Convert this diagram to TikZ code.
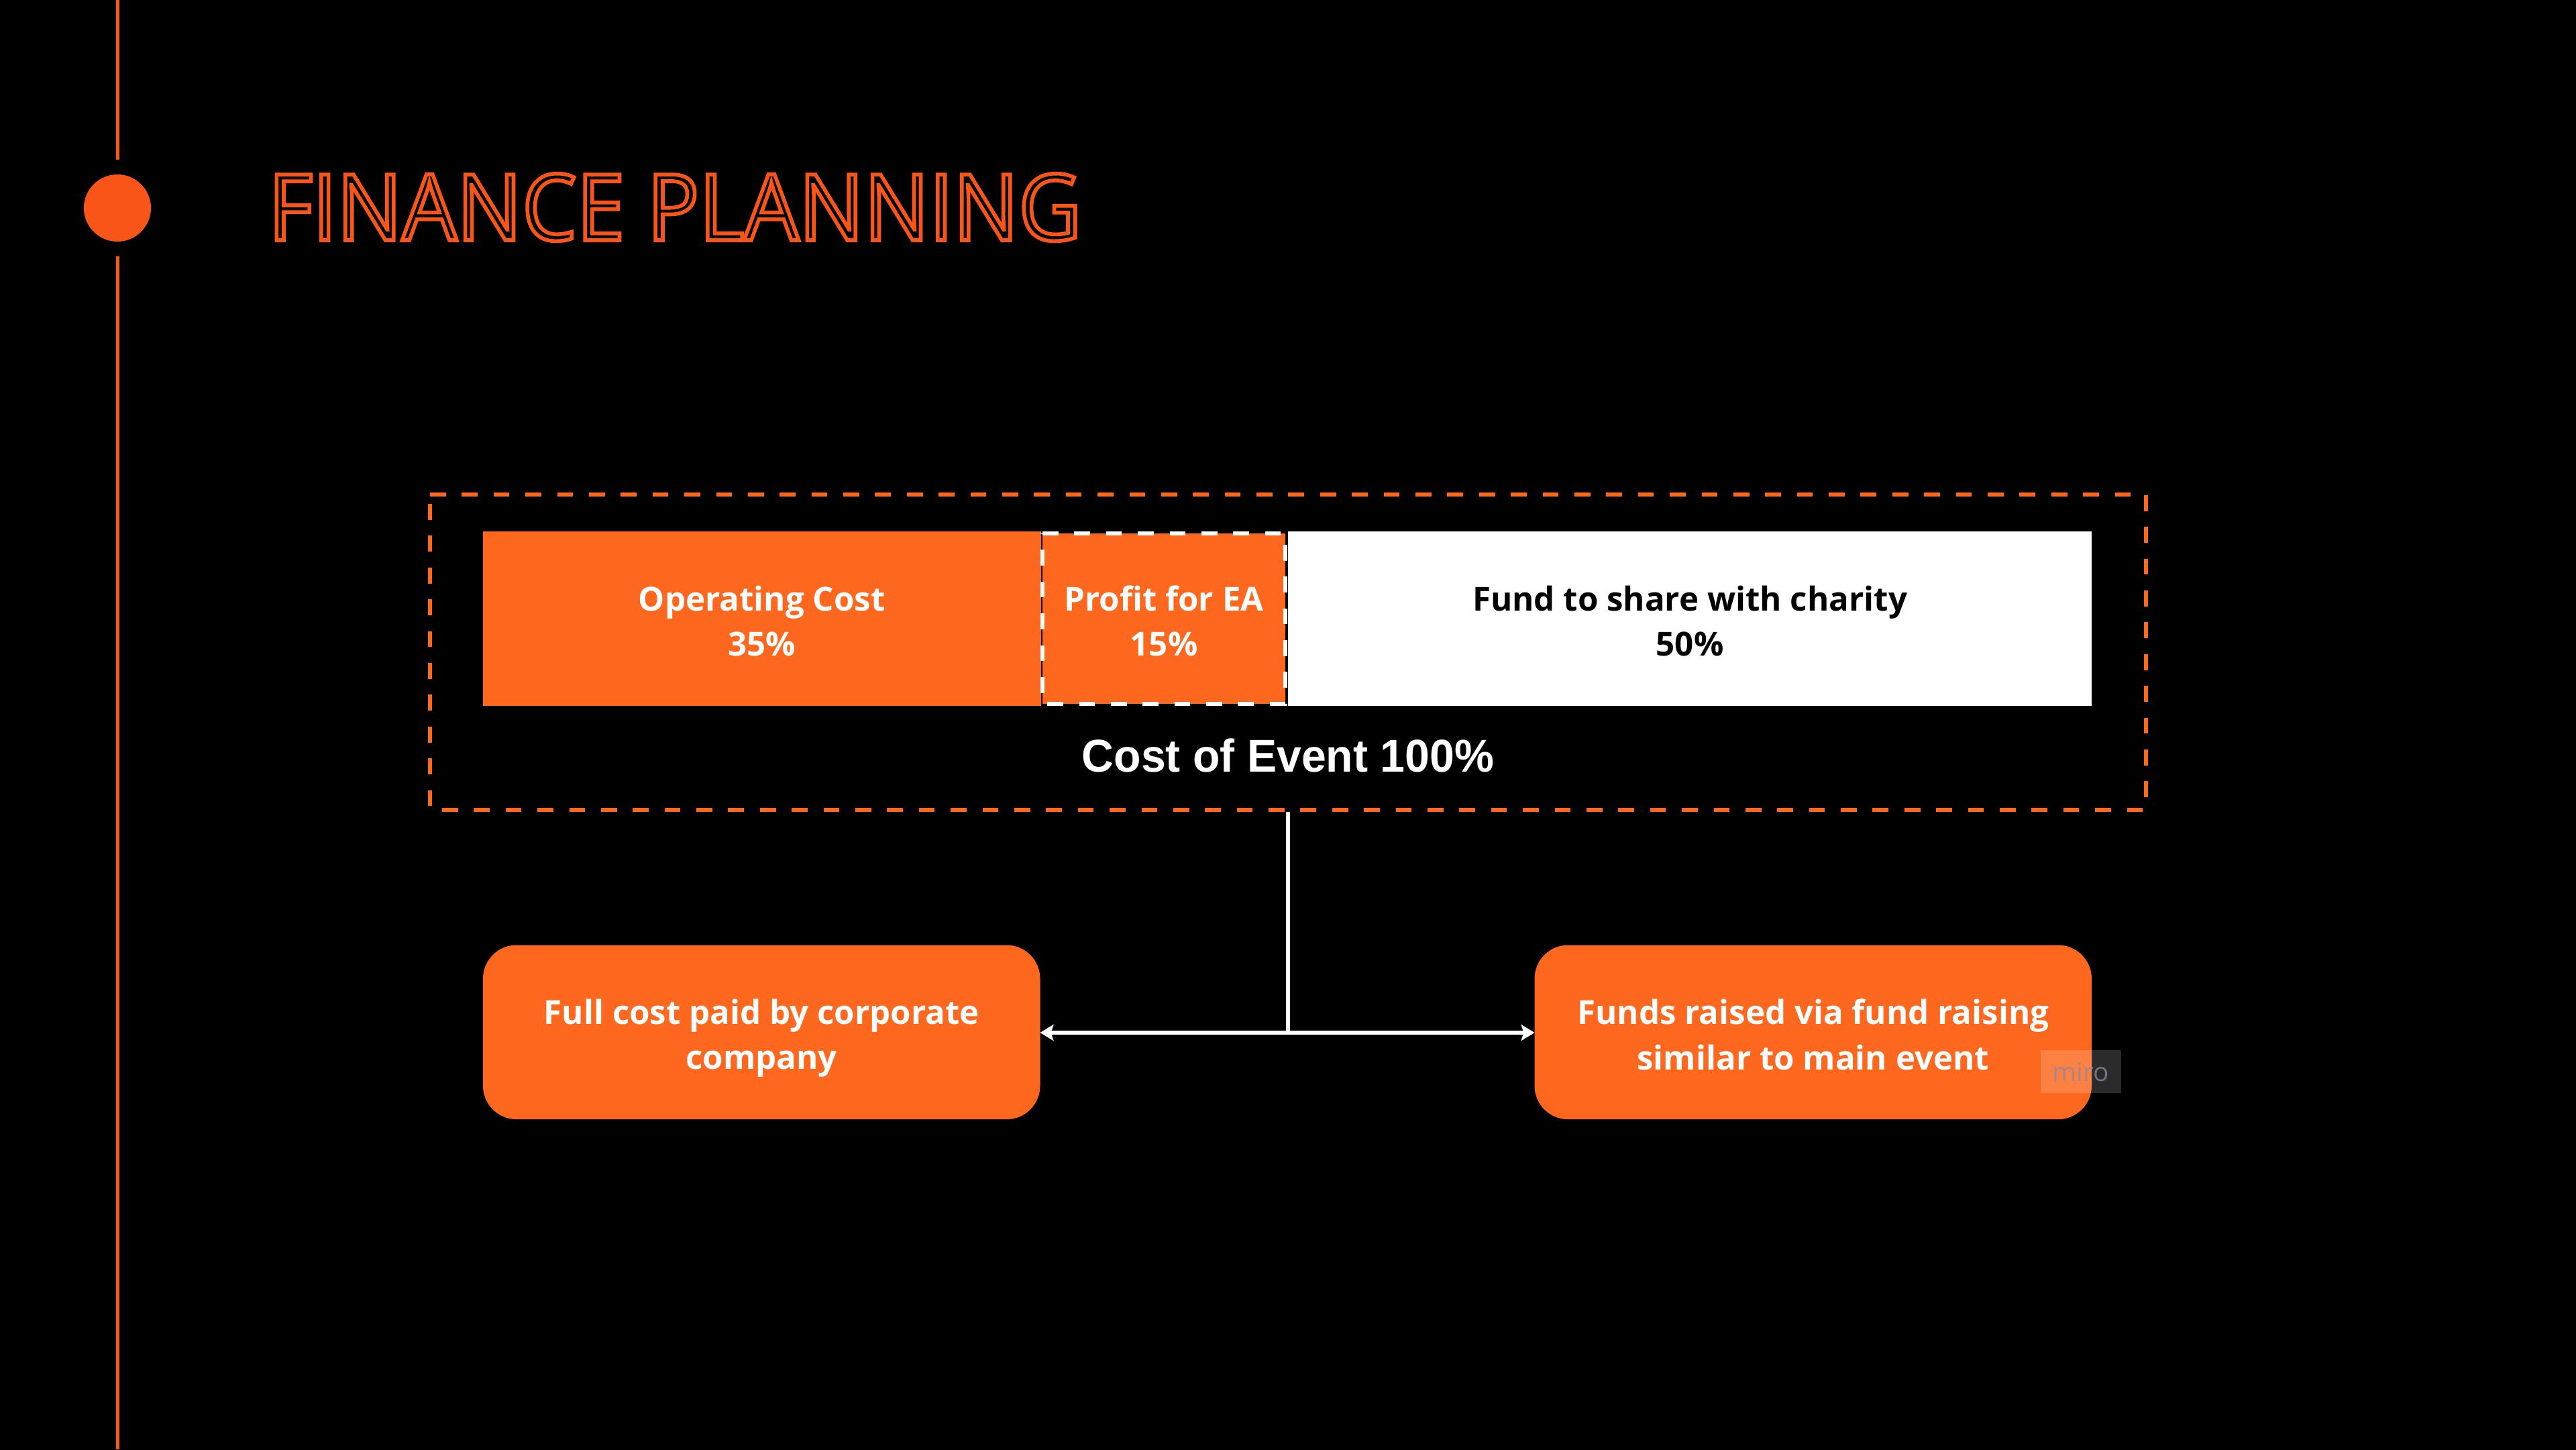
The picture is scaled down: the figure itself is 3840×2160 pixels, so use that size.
\documentclass[tikz,border=0pt]{standalone}
\usepackage{fontspec}
\usetikzlibrary{arrows.meta}
\setmainfont{Open Sans}
\newfontfamily\titlefont[FakeStretch=0.94]{Open Sans}
\newfontfamily\costfont[FakeStretch=0.965]{Liberation Sans}
\definecolor{dotorange}{HTML}{FA5519}
\definecolor{boxorange}{HTML}{FD681E}
\definecolor{mirotext}{HTML}{8E88A0}
\newcommand{\firstln}{\rule{0pt}{0.55cm}}
\newcommand{\lastln}{\rule[-0.11cm]{0pt}{0.11cm}}
\tikzset{
  x=0.01cm, y=-0.01cm,
  pxw/.style={line width=#1*0.01cm},
  barfill/.style={rectangle, inner sep=0pt, outer sep=0pt, align=center, font=\fontsize{14.0}{19.2}\selectfont\bfseries},
  rounded/.style={barfill, fill=boxorange, text=white, rounded corners=0.5cm, minimum width=8.3cm, minimum height=2.595cm},
  dashA/.style={dash pattern=on 0.2368cm off 0.2368cm},
  conn/.style={draw=white, pxw=6.5},
  tip/.style={-{Stealth[length=0.2cm,width=0.24cm,inset=0.04cm]}}
}
\begin{document}
\begin{tikzpicture}
\useasboundingbox (0,0) rectangle (3840,2160);
\fill[black] (-10,-10) rectangle (3850,2170);
% left rail
\coordinate (railtop) at (175,0);
\coordinate (railbot) at (175,2160);
\node[circle, fill=dotorange, minimum size=1cm, inner sep=0pt, outer sep=0pt] (dot) at (175,310) {};
\draw[dotorange, pxw=5] (railtop) -- ++(0,238);
\draw[dotorange, pxw=5] (railbot) -- ++(0,-1778);
% title
\node[anchor=base west, inner sep=0pt, text=dotorange, font=\titlefont\fontsize{39}{48}\selectfont] (title) at (399,358)
  {\special{pdf:code 1 Tr 1.6 w}FINANCE PLANNING\special{pdf:code 0 Tr}};
% bars
\node[barfill, fill=boxorange, text=white, anchor=north west, minimum width=8.31cm, minimum height=2.6cm] (op) at (720,792) {\firstln Operating Cost\\35\%\lastln};
\node[barfill, fill=white, text=black, anchor=north west, minimum width=11.975cm, minimum height=2.6cm] (fund) at (1920,792) {\firstln Fund to share with charity\\50\%\lastln};
\node[barfill, fill=boxorange, text=white, anchor=north west, minimum width=3.62cm, minimum height=2.54cm] (profit) at (1554,795) {\firstln Profit for EA\\15\%\lastln};
\draw[white, pxw=5.5, dashA] (profit.north west) -- (profit.north east) -- (profit.south east) -- (profit.south west) -- cycle;
% outer frame
\coordinate (fa) at (641,737);
\coordinate (fb) at (3199,737);
\coordinate (fc) at (3199,1207);
\coordinate (fd) at (641,1207);
\draw[boxorange, pxw=6, dashA] (fa) -- (fb) -- (fc) -- (fd) -- cycle;
\node[anchor=base, inner sep=0pt, text=white, font=\costfont\fontsize{19.5}{24}\selectfont\bfseries] (cost) at (1920,1150) {Cost of Event 100\%};
% lower boxes
\node[rounded, anchor=north west] (left) at (720,1408.5) {\firstln Full cost paid by corporate\\company\lastln};
\node[rounded, anchor=north west] (right) at (2287.5,1408.5) {\firstln Funds raised via fund raising\\similar to main event\lastln};
% connectors
\coordinate (top) at (1920,1210);
\coordinate (junc) at (1920,1539);
\draw[conn] (top) -- (junc);
\draw[conn, tip] (junc) -- (left.east |- junc);
\draw[conn, tip] (junc) -- (right.west |- junc);
% watermark
\fill[white, opacity=0.17] (3042,1565) rectangle (3162,1629);
\node[text=mirotext, opacity=0.75, inner sep=0pt, font=\fontsize{11}{13}\selectfont] (miro) at (3102,1597) {miro};
\end{tikzpicture}
\end{document}
